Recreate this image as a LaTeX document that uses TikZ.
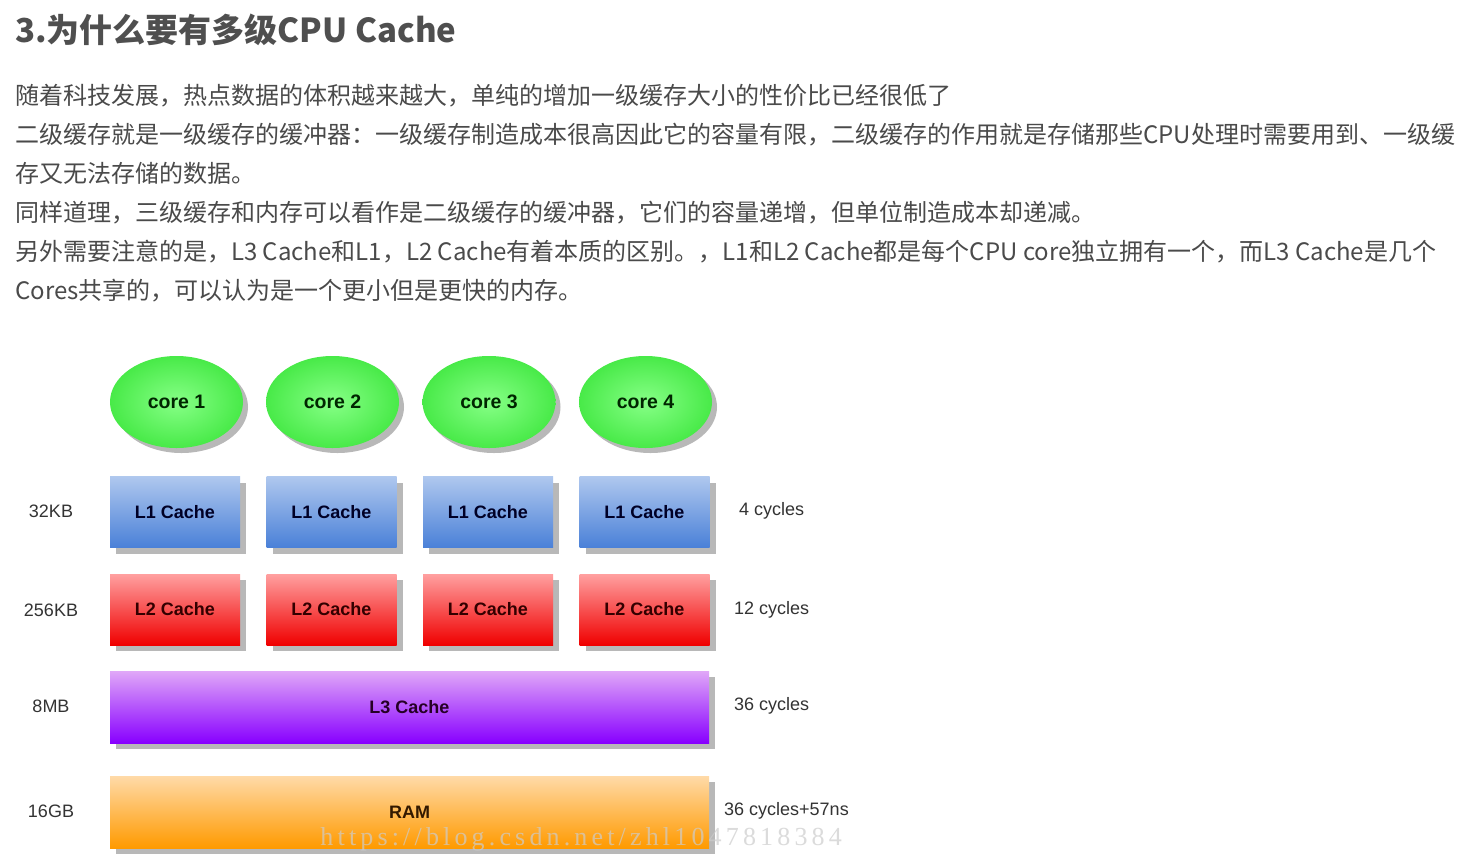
\documentclass[tikz,border=0pt]{standalone}
\usepackage{fontspec}
\setmainfont{Liberation Sans}
\newfontfamily\cjk{Noto Sans CJK SC}
\newfontfamily\wmfont[LetterSpace=16]{Liberation Serif}
\usetikzlibrary{shapes.geometric,shadows}
\definecolor{txt}{HTML}{4A4A4A}
\definecolor{ttl}{HTML}{4F4F4F}
\definecolor{lbl}{HTML}{333333}
\definecolor{shd}{HTML}{B8B8B8}
\definecolor{blueT}{HTML}{AFC8EE}
\definecolor{blueB}{HTML}{4A80D8}
\definecolor{redT}{HTML}{FFA0A0}
\definecolor{redB}{HTML}{F00000}
\definecolor{purT}{HTML}{E0A8F8}
\definecolor{purB}{HTML}{8800FF}
\definecolor{orT}{HTML}{FFDAA8}
\definecolor{orB}{HTML}{FF9A00}
\definecolor{grIn}{HTML}{86FF86}
\definecolor{grOut}{HTML}{48EA48}
\tikzset{
  para/.style={anchor=base west, inner sep=0pt, text=txt, font=\cjk\fontsize{24}{30}\selectfont},
  cachebox/.style={rectangle, inner sep=0pt, minimum width=130pt, minimum height=71pt,
    drop shadow={shadow xshift=6pt, shadow yshift=-6pt, fill=shd, opacity=1},
    font=\bfseries\fontsize{18}{22}\selectfont},
  lone/.style={cachebox, top color=blueT, bottom color=blueB, text=blue!15!black},
  ltwo/.style={cachebox, top color=redT, bottom color=redB, text=red!20!black},
  wide/.style={cachebox, minimum width=599pt, minimum height=72pt},
  lthree/.style={wide, top color=purT, bottom color=purB, text=violet!30!black},
  ram/.style={wide, top color=orT, bottom color=orB, text=orange!20!black},
  core/.style={ellipse, inner sep=0pt, minimum width=133pt, minimum height=92pt,
    inner color=grIn, outer color=grOut, text=green!15!black,
    drop shadow={shadow xshift=5pt, shadow yshift=-5pt, fill=shd, opacity=1},
    font=\bfseries\fontsize{19.5}{23}\selectfont},
  size/.style={anchor=center, inner sep=0pt, text=lbl, font=\fontsize{18}{22}\selectfont},
  cyc/.style={anchor=west, inner sep=0pt, text=lbl, font=\fontsize{18}{22}\selectfont},
}
\begin{document}
\begin{tikzpicture}[x=1pt,y=-1pt]
\useasboundingbox[fill=white] (0,0) rectangle (1479,860);
\node[anchor=base west, inner sep=0pt, text=ttl, font=\cjk\bfseries\fontsize{33}{38}\selectfont] (title) at (15,42) {3.为什么要有多级CPU Cache};
\node[para] (p1) at (15,104) {随着科技发展，热点数据的体积越来越大，单纯的增加一级缓存大小的性价比已经很低了};
\node[para] (p2) at (15,143) {二级缓存就是一级缓存的缓冲器：一级缓存制造成本很高因此它的容量有限，二级缓存的作用就是存储那些CPU处理时需要用到、一级缓};
\node[para] (p3) at (15,182) {存又无法存储的数据。};
\node[para] (p4) at (15,221) {同样道理，三级缓存和内存可以看作是二级缓存的缓冲器，它们的容量递增，但单位制造成本却递减。};
\node[para] (p5) at (15,260) {另外需要注意的是，L3 Cache和L1，L2 Cache有着本质的区别。，L1和L2 Cache都是每个CPU core独立拥有一个，而L3 Cache是几个};
\node[para] (p6) at (15,299) {Cores共享的，可以认为是一个更小但是更快的内存。};
% cores
\node[core] (c1) at (176.5,402) {core 1};
\node[core] (c2) at (332.5,402) {core 2};
\node[core] (c3) at (489,402) {core 3};
\node[core] (c4) at (645.5,402) {core 4};
% L1
\node[lone] (a1) at (175,512) {L1 Cache};
\node[lone] (a2) at (331.5,512) {L1 Cache};
\node[lone] (a3) at (488,512) {L1 Cache};
\node[lone] (a4) at (644.5,512) {L1 Cache};
% L2
\node[ltwo] (b1) at (175,609.5) {L2 Cache};
\node[ltwo] (b2) at (331.5,609.5) {L2 Cache};
\node[ltwo] (b3) at (488,609.5) {L2 Cache};
\node[ltwo] (b4) at (644.5,609.5) {L2 Cache};
% L3 and RAM
\node[lthree] (l3) at (409.5,707) {L3 Cache};
\node[ram] (ram) at (409.5,812) {RAM};
% sizes
\node[size] (s1) at (51,511) {32KB};
\node[size] (s2) at (51,610) {256KB};
\node[size] (s3) at (51,706) {8MB};
\node[size] (s4) at (51,811) {16GB};
% cycles
\node[cyc] (t1) at (739,511) {4 cycles};
\node[cyc] (t2) at (734,610) {12 cycles};
\node[cyc] (t3) at (734,706) {36 cycles};
\node[cyc] (t4) at (724,811) {36 cycles+57ns};
% watermark
\node[anchor=base east, inner sep=0pt, text=gray!40, opacity=0.7, font=\wmfont\fontsize{26}{30}\selectfont] (wm) at (842,845) {https://blog.csdn.net/zhl1047818384};
\end{tikzpicture}
\end{document}
